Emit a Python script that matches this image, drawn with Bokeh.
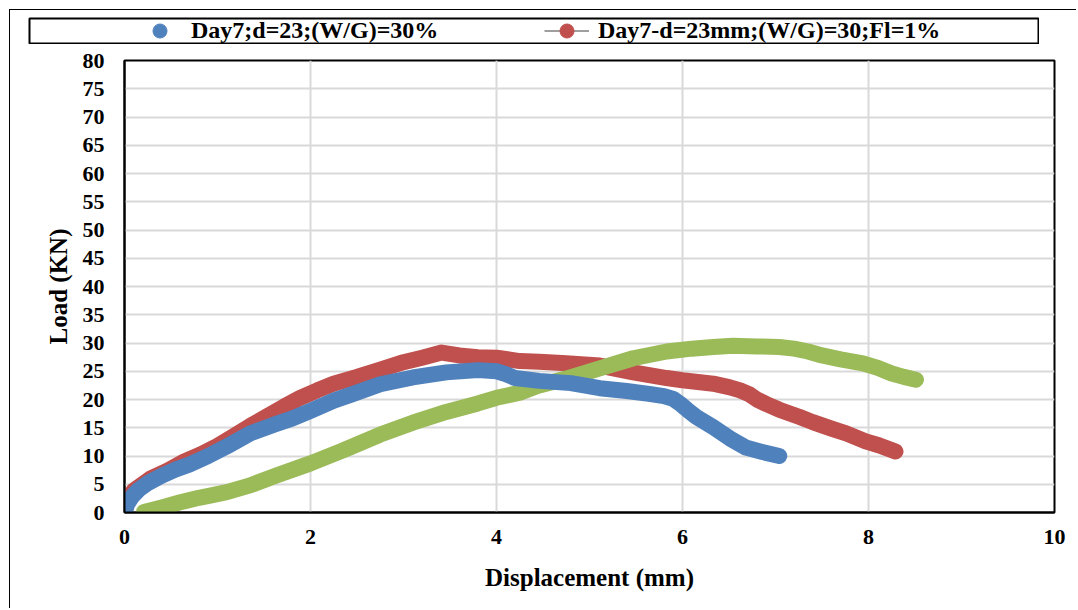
from bokeh.plotting import figure
from bokeh.models import Range1d, FixedTicker, Legend, LegendItem
from bokeh.layouts import column
from bokeh.embed import file_html
from bokeh.resources import INLINE

# ---- data ----
blue_x = [0, 0.03, 0.08, 0.15, 0.25, 0.4, 0.55, 0.7, 0.9, 1.1, 1.35, 1.6, 1.8, 2.0, 2.25, 2.46,
          2.75, 3.1, 3.46, 3.8, 4.0, 4.1, 4.2, 4.46, 4.8, 5.11, 5.4, 5.64, 5.8, 5.9, 5.97, 6.05,
          6.15, 6.33, 6.51, 6.68, 6.86, 7.04]
blue_y = [0, 1.5, 2.8, 4.0, 5.2, 6.5, 7.6, 8.5, 10.0, 11.7, 14.0, 15.5, 16.6, 18.0, 19.8, 21.0,
          22.7, 23.9, 24.8, 25.2, 25.0, 24.5, 23.8, 23.3, 22.9, 22.0, 21.5, 21.0, 20.6, 20.1, 19.3, 18.2,
          16.9, 15.1, 13.1, 11.5, 10.7, 10.0]

red_x = [0, 0.03, 0.1, 0.28, 0.46, 0.64, 0.82, 1.0, 1.17, 1.35, 1.53, 1.71, 1.89, 2.07, 2.25,
         2.5, 2.75, 3.0, 3.2, 3.41, 3.6, 3.8, 4.0, 4.25, 4.46, 4.75, 5.11, 5.47, 5.83, 6.0, 6.33,
         6.5, 6.62, 6.72, 6.8, 6.9, 7.04, 7.26, 7.4, 7.61, 7.76, 7.97, 8.11, 8.29]
red_y = [0, 2.0, 3.9, 6.0, 7.4, 9.0, 10.3, 11.8, 13.5, 15.3, 17.0, 18.7, 20.3, 21.6, 22.8,
         24.0, 25.3, 26.6, 27.4, 28.3, 27.8, 27.5, 27.4, 26.8, 26.7, 26.4, 26.0, 24.8, 23.8, 23.4, 22.8,
         22.2, 21.6, 20.9, 20.0, 19.2, 18.2, 16.9, 16.0, 14.8, 14.0, 12.6, 11.9, 10.8]

green_x = [0.21, 0.4, 0.6, 0.8, 0.92, 1.1, 1.35, 1.64, 2.0, 2.35, 2.75, 3.1, 3.46, 3.8, 4.0,
           4.25, 4.46, 4.75, 5.11, 5.47, 5.83, 6.1, 6.33, 6.54, 6.8, 7.04, 7.2, 7.35, 7.5, 7.7,
           7.94, 8.1, 8.25, 8.38, 8.51]
green_y = [0.1, 0.9, 1.8, 2.6, 3.0, 3.6, 4.8, 6.6, 8.7, 11.0, 13.8, 15.9, 17.8, 19.3, 20.3,
           21.2, 22.5, 23.7, 25.5, 27.3, 28.5, 29.0, 29.3, 29.5, 29.4, 29.3, 29.0, 28.5, 27.8, 27.1,
           26.4, 25.6, 24.6, 24.0, 23.5]

series_labels = ["Day7;d=23;(W/G)=30%", "Day7-d=23mm;(W/G)=30;Fl=1%"]
x_ticks = [0, 2, 4, 6, 8, 10]
y_ticks = list(range(0, 81, 5))
x_title = "Displacement (mm)"
y_title = "Load (KN)"

BLUE = "#4f81bd"
RED = "#c0504d"
GREEN = "#9bbb59"
FONT = "Liberation Serif"

# ---- main chart ----
p = figure(width=1066, height=564, x_range=Range1d(0, 10), y_range=Range1d(0, 80),
           output_backend="svg", toolbar_location=None,
           min_border_left=114, min_border_right=22, min_border_top=16, min_border_bottom=96,
           margin=(0, 0, 0, 0))
p.frame_align = False
p.background_fill_color = "white"
p.border_fill_color = "white"
p.outline_line_color = "black"
p.outline_line_width = 2

for xs, ys, c in [(red_x, red_y, RED), (green_x, green_y, GREEN), (blue_x, blue_y, BLUE)]:
    p.line(xs, ys, line_width=16, line_color=c, line_cap="round", line_join="round")

p.xaxis.ticker = FixedTicker(ticks=x_ticks)
p.yaxis.ticker = FixedTicker(ticks=y_ticks)
p.xgrid.ticker = FixedTicker(ticks=x_ticks)
p.ygrid.ticker = FixedTicker(ticks=y_ticks)
p.grid.grid_line_color = "#d9d9d9"
p.grid.grid_line_width = 2

for ax in (p.xaxis, p.yaxis):
    ax.axis_line_color = "black"
    ax.axis_line_width = 2
    ax.major_tick_line_color = None
    ax.minor_tick_line_color = None
    ax.major_tick_out = 0
    ax.major_tick_in = 0
    ax.major_label_text_font = FONT
    ax.major_label_text_font_style = "bold"
    ax.major_label_text_font_size = "22px"
    ax.major_label_text_color = "black"
    ax.axis_label_text_font = FONT
    ax.axis_label_text_font_style = "bold"
    ax.axis_label_text_font_size = "25px"
    ax.axis_label_text_color = "black"

p.xaxis.axis_label = x_title
p.yaxis.axis_label = y_title
p.xaxis.major_label_standoff = 17
p.yaxis.major_label_standoff = 20
p.xaxis.axis_label_standoff = 17
p.yaxis.axis_label_standoff = 8

# ---- legend box (separate strip above the chart) ----
lf = figure(width=1011, height=27, x_range=Range1d(0, 1), y_range=Range1d(0, 1),
            x_axis_type=None, y_axis_type=None,
            output_backend="svg", toolbar_location=None, min_border=1,
            min_border_left=1, min_border_right=1, min_border_top=1, min_border_bottom=1,
            margin=(7, 0, 0, 18))
lf.frame_align = False
lf.grid.visible = False
lf.outline_line_color = "black"
lf.outline_line_width = 2
lf.background_fill_color = "white"
lf.border_fill_color = "white"

nan = [float("nan")]
rb = lf.scatter(x=nan, y=nan, size=14, fill_color=BLUE, line_color=BLUE)
rl = lf.line(x=nan, y=nan, line_color="#7f7f7f", line_width=1.5)
rr = lf.scatter(x=nan, y=nan, size=14, fill_color=RED, line_color=RED)

legend = Legend(items=[LegendItem(label=series_labels[0], renderers=[rb]),
                       LegendItem(label=series_labels[1], renderers=[rl, rr])],
                orientation="horizontal", location=(108, -5),
                border_line_color=None, background_fill_alpha=0,
                padding=0, margin=0, spacing=11, label_standoff=9,
                glyph_width=45, glyph_height=35, label_width=342,
                label_text_font=FONT, label_text_font_style="bold",
                label_text_font_size="24px", label_text_color="black")
lf.add_layout(legend)

layout = column(lf, p, margin=(9, 0, 0, 9), spacing=0,
                styles={"border-left": "1px solid black", "border-top": "1px solid black"})

open("out.html", "w").write(file_html(layout, INLINE))
